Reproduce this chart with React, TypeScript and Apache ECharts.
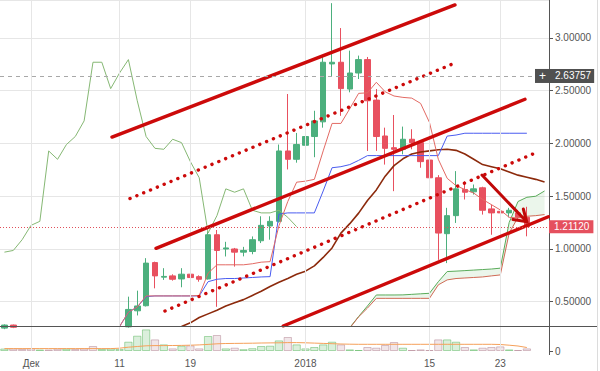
import React, { useEffect, useRef } from 'react';
import * as echarts from 'echarts';

// ---------- categories (one per day, 2017-11-28 .. 2018-01-28) ----------
const categories: string[] = [];
{
  const start = Date.UTC(2017, 10, 28);
  for (let i = 0; i < 62; i++) categories.push(new Date(start + i * 86400000).toISOString().slice(0, 10));
}
const xTickLabels: Record<string, string> = {
  '2017-12-01': 'Дек',
  '2017-12-11': '11',
  '2017-12-19': '19',
  '2018-01-01': '2018',
  '2018-01-15': '15',
  '2018-01-23': '23',
};

// ---------- candles (index 0 = 2017-11-28 ... 59 = 2018-01-26) ----------
const opens = [0.25, 0.279, 0.258, 0.25, 0.245, 0.248, 0.24, 0.236, 0.242, 0.238, 0.232, 0.228, 0.234, 0.238,
  0.262, 0.414, 0.462, 0.871, 0.733, 0.745, 0.716, 0.761, 0.738, 0.716, 1.135, 1.0, 1.0, 0.97, 0.976, 1.078, 1.218, 1.262,
  1.929, 1.85, 1.983, 2.066, 2.205, 2.754, 2.77, 2.516, 2.668, 2.795, 2.411, 2.071, 1.96, 1.945, 2.04, 2.008, 1.843, 1.675,
  1.145, 1.316, 1.564, 1.542, 1.58, 1.38, 1.357, 1.342, 1.342, 1.3];
const closes = [0.279, 0.258, 0.25, 0.245, 0.248, 0.24, 0.236, 0.242, 0.238, 0.232, 0.228, 0.234, 0.238, 0.262,
  0.427, 0.46, 0.866, 0.745, 0.74, 0.713, 0.761, 0.729, 0.713, 1.135, 0.986, 1.01, 0.97, 0.986, 1.088, 1.224, 1.262, 1.929,
  1.85, 1.99, 2.066, 2.214, 2.77, 2.77, 2.52, 2.668, 2.795, 2.405, 2.066, 1.954, 1.945, 2.04, 2.008, 1.828, 1.675, 1.151,
  1.316, 1.57, 1.538, 1.57, 1.367, 1.342, 1.342, 1.367, 1.3, 1.2112];
const lows = [0.24, 0.25, 0.24, 0.235, 0.238, 0.232, 0.228, 0.23, 0.232, 0.225, 0.22, 0.222, 0.228, 0.232,
  0.255, 0.37, 0.455, 0.627, 0.707, 0.7, 0.637, 0.675, 0.69, 0.71, 0.452, 0.929, 0.833, 0.93, 0.95, 1.056, 1.088, 1.25,
  1.754, 1.818, 1.88, 1.87, 2.15, 2.64, 2.262, 2.485, 2.611, 1.929, 1.93, 1.8, 1.548, 1.897, 1.945, 1.77, 1.643, 0.897,
  0.866, 1.247, 1.469, 1.516, 1.326, 1.135, 1.183, 1.3, 1.28, 1.12];
const highs = [0.285, 0.283, 0.262, 0.258, 0.255, 0.252, 0.246, 0.25, 0.248, 0.244, 0.24, 0.24, 0.246, 0.268,
  0.548, 0.605, 0.913, 0.88, 0.818, 0.76, 0.818, 0.846, 0.75, 1.167, 1.18, 1.068, 1.01, 1.02, 1.119, 1.31, 1.31, 1.99,
  2.469, 2.1, 2.12, 2.31, 2.82, 3.33, 3.094, 2.88, 2.833, 2.82, 2.516, 2.15, 2.27, 2.16, 2.135, 2.02, 1.86, 1.7,
  1.39, 1.738, 1.643, 1.611, 1.59, 1.421, 1.452, 1.39, 1.37, 1.4];

const lead = (n: number) => Array(n).fill(null);

// ---------- Ichimoku / MA lines ----------
const tenkan = [...lead(12), 0.24, 0.265, 0.4, 0.45, 0.555, 0.555, 0.555, 0.555, 0.555, 0.555, 0.56, 0.77, 0.85, 0.85, 0.85,
  0.85, 0.86, 0.875, 0.88, 1.22, 1.45, 1.633, 1.643, 1.66, 1.93, 2.19, 2.19, 2.33, 2.475, 2.48, 2.58, 2.49, 2.45, 2.437,
  2.43, 2.38, 2.2, 1.85, 1.67, 1.6, 1.564, 1.53, 1.47, 1.42, 1.37, 1.3, 1.294, 1.3, null, null];
const kijun = [...lead(12), 0.24, 0.265, 0.4, 0.45, 0.548, 0.555, 0.555, 0.555, 0.555, 0.555, 0.555, 0.69, 0.713, 0.72, 0.72,
  0.725, 0.73, 0.735, 0.738, 1.33, 1.342, 1.342, 1.342, 1.342, 1.55, 1.77, 1.78, 1.8, 1.84, 1.885, 1.885, 1.885, 1.885,
  1.885, 1.885, 1.885, 1.885, 1.885, 2.07, 2.08, 2.097, 2.097, 2.097, 2.097, 2.097, 2.097, 2.097, 2.097, null, null];
const brownMA = [...lead(19), 0.24, 0.265, 0.3, 0.35, 0.385, 0.42, 0.46, 0.49, 0.52, 0.56, 0.6, 0.645, 0.685, 0.72, 0.76,
  0.79, 0.84, 0.92, 1.01, 1.15, 1.24, 1.34, 1.46, 1.56, 1.69, 1.79, 1.855, 1.9, 1.92, 1.93, 1.94, 1.945, 1.935, 1.9, 1.85,
  1.8, 1.78, 1.76, 1.73, 1.7, 1.68, 1.66, 1.635];
const senkouA = [...lead(39), 0.255, 0.36, 0.46, 0.564, 0.564, 0.564, 0.565, 0.57, 0.575, 0.58, 0.69, 0.786, 0.79, 0.795,
  0.8, 0.805, 0.81, 0.818, 1.25, 1.45, 1.49, 1.5, 1.55];
const senkouB = [...lead(39), 0.25, 0.357, 0.44, 0.532, 0.532, 0.532, 0.532, 0.532, 0.532, 0.532, 0.66, 0.707, 0.72, 0.725,
  0.73, 0.735, 0.745, 0.754, 1.15, 1.3, 1.31, 1.316, 1.326];
// lagging span = closes shifted back 26 days
const chikou = categories.map((_, i) => (i + 26 < closes.length ? closes[i + 26] : null));

// ---------- volume ----------
const volumes = [2.5, 2.5, 2, 2.6, 1.5, 1.5, 2.3, 2.3, 2, 2.5, 5, 2, 2.5, 2,
  9.3, 15.3, 21.6, 11.6, 6.6, 2.6, 5.3, 5.6, 2.6, 15, 16, 2.6, 3.3, 1.8, 2.8, 5, 5.3, 10.6, 14, 6.6, 2.6, 4, 6.6, 9.3, 6.6,
  1.6, 1, 4, 3.3, 6, 9, 3.3, 1, 1.6, 1, 11.6, 11.6, 9.3, 4, 1.6, 3.3, 4, 4.6, 1.6, 1, 2.6];
const volumeMA = [2.4, 2.4, 2.4, 2.4, 2.4, 2.4, 2.4, 2.4, 2.4, 2.4, 2.4, 2.4, 2.4, 2.8, 3.8, 4.5, 5.2, 5.4, 5.4, 5.5, 5.6,
  5.8, 6.1, 6.6, 7.2, 7.5, 7.6, 7.7, 7.8, 8, 8.1, 8.2, 8.4, 8.4, 8.2, 7.9, 7.6, 7.3, 7.0, 6.8, 6.7, 6.7, 6.7, 6.7, 6.7,
  6.7, 6.7, 6.7, 6.7, 6.7, 6.7, 6.7, 6.7, 6.7, 6.7, 6.7, 6.5, 5.8, 5.0, 3.5];

// ---------- hand-drawn annotations: [dayIndex, price] anchors ----------
const trendSolid = [
  [[12.15, 2.061], [50.88, 3.313]],
  [[17.12, 1.006], [58.79, 2.419]],
  [[31.49, 0.27], [61.42, 1.306]],
];
const trendDotted = [
  [[14.18, 1.478], [50.88, 2.763]],
  [[18.13, 0.412], [60.29, 1.922]],
];
const arrowShaft = [[53.93, 1.701], [58.98, 1.258]];
const arrowHead = [[58.6, 1.379], [58.98, 1.258], [57.43, 1.279]];

const lastPrice = 1.2112;
const markPrice = 2.63757;

const GREEN = '#4caf7d';
const RED = '#e8505f';
const FONT = 'Liberation Sans, Arial, sans-serif';

export default function App() {
  const ref = useRef<HTMLDivElement>(null);
  useEffect(() => {
    if (!ref.current) return;
    const chart = echarts.init(ref.current, undefined, { renderer: 'svg' });
    const vLines = Object.keys(xTickLabels).map((k) => ({ xAxis: k }));
    const gridLineMark = {
      silent: true,
      symbol: ['none', 'none'],
      label: { show: false },
      lineStyle: { color: '#e6e6e6', width: 1, type: 'solid' },
      data: vLines,
    };
    const lineSeries = (data: any[], color: string, width: number, z = 4) => ({
      type: 'line', xAxisIndex: 0, yAxisIndex: 0, data, symbol: 'none', silent: true, z,
      lineStyle: { color, width }, label: { show: false },
    });
    const cloudDiff = senkouA.map((a, i) => (a == null || senkouB[i] == null ? null : +(a - (senkouB[i] as number)).toFixed(4)));

    const series: any[] = [
      { type: 'line', xAxisIndex: 0, yAxisIndex: 0, data: [], z: 1, silent: true, markLine: gridLineMark },
      { type: 'line', xAxisIndex: 2, yAxisIndex: 1, data: [], z: 1, silent: true, markLine: gridLineMark },
      // cloud fill
      { type: 'line', xAxisIndex: 0, yAxisIndex: 0, data: senkouB, stack: 'cloud', symbol: 'none', silent: true, z: 2,
        lineStyle: { opacity: 0 } },
      { type: 'line', xAxisIndex: 0, yAxisIndex: 0, data: cloudDiff, stack: 'cloud', symbol: 'none', silent: true, z: 2,
        lineStyle: { opacity: 0 }, areaStyle: { color: 'rgba(76,175,80,0.16)' } },
      {
        type: 'candlestick', xAxisIndex: 0, yAxisIndex: 0, z: 3, barWidth: 6, clip: true,
        data: opens.map((o, i) => [o, closes[i], lows[i], highs[i]]),
        itemStyle: { color: GREEN, color0: RED, borderColor: GREEN, borderColor0: RED, borderWidth: 1 },
        markLine: {
          silent: true, symbol: ['none', 'none'], z: 10,
          data: [
            {
              yAxis: markPrice,
              lineStyle: { color: '#a8a8a8', type: [4, 4], width: 1 },
              label: {
                show: true, position: 'end', distance: -14,
                formatter: '{p|+}{v|' + markPrice.toFixed(5) + '}',
                rich: {
                  p: { backgroundColor: '#505050', color: '#fff', fontSize: 12, fontFamily: FONT, padding: [1, 4], lineHeight: 12 },
                  v: { backgroundColor: '#505050', color: '#fff', fontSize: 10, fontFamily: FONT, padding: [2, 3, 2, 5], lineHeight: 10 },
                },
              },
            },
            {
              yAxis: lastPrice,
              lineStyle: { color: '#e0505a', type: [1, 2], width: 1 },
              label: {
                show: true, position: 'end', distance: 0,
                formatter: lastPrice.toFixed(5), backgroundColor: '#e5505e', color: '#fff',
                fontSize: 10, fontFamily: FONT, padding: [1, 4, 1, 5], lineHeight: 11,
              },
            },
          ],
        },
      },
      lineSeries(chikou, '#86b874', 1),
      lineSeries(senkouA, '#5aab5a', 1),
      lineSeries(senkouB, '#cf6a55', 1),
      lineSeries(brownMA, '#8c2a0c', 1.6),
      lineSeries(kijun, '#4a5cf0', 1),
      lineSeries(tenkan, '#e36a64', 1),
      ...trendSolid.map((d) => ({ type: 'line', xAxisIndex: 1, yAxisIndex: 0, data: d, symbol: 'none', silent: true, z: 6,
        lineStyle: { color: '#cc0a0a', width: 3.4, cap: 'round' } })),
      ...trendDotted.map((d) => ({ type: 'line', xAxisIndex: 1, yAxisIndex: 0, data: d, symbol: 'none', silent: true, z: 6,
        lineStyle: { color: '#cc0a0a', width: 3.4, type: [0.1, 7.3], cap: 'round' } })),
      { type: 'line', xAxisIndex: 1, yAxisIndex: 0, data: arrowShaft, symbol: 'none', silent: true, z: 6,
        lineStyle: { color: '#c00808', width: 3, cap: 'round' } },
      { type: 'line', xAxisIndex: 1, yAxisIndex: 0, data: arrowHead, symbol: 'none', silent: true, z: 6,
        lineStyle: { color: '#c00808', width: 3, cap: 'round', join: 'miter' } },
      // volume
      {
        type: 'bar', xAxisIndex: 2, yAxisIndex: 1, z: 3, silent: true, barCategoryGap: '6%',
        data: volumes.map((v, i) => ({
          value: v,
          itemStyle: closes[i] >= opens[i]
            ? { color: 'rgba(76,175,80,0.2)', borderColor: 'rgba(76,175,80,0.45)', borderWidth: 1 }
            : { color: 'rgba(190,140,155,0.22)', borderColor: 'rgba(170,120,135,0.45)', borderWidth: 1 },
        })),
      },
      { type: 'line', xAxisIndex: 2, yAxisIndex: 1, data: volumeMA, symbol: 'none', silent: true, z: 4,
        lineStyle: { color: '#f5a05a', width: 1 } },
    ];

    chart.setOption({
      animation: false,
      textStyle: { fontFamily: FONT },
      grid: [
        { left: 0, right: 51, top: 0, height: 326 },
        { left: 0, right: 51, top: 326, height: 25 },
      ],
      xAxis: [
        { type: 'category', gridIndex: 0, data: categories, boundaryGap: true, axisLine: { show: false, onZero: false },
          axisTick: { show: false }, axisLabel: { show: false }, splitLine: { show: false } },
        { type: 'value', gridIndex: 0, min: -0.5, max: 61.5, show: false, axisLine: { show: false, onZero: false },
          axisLabel: { show: false }, axisTick: { show: false }, splitLine: { show: false } },
        { type: 'category', gridIndex: 1, data: categories, boundaryGap: true, axisLine: { show: false, onZero: false },
          axisTick: { show: false }, splitLine: { show: false },
          axisLabel: {
            interval: (_i: number, v: string) => v in xTickLabels,
            formatter: (v: string) => xTickLabels[v] ?? '',
            color: '#555', fontSize: 10, margin: 7, fontFamily: FONT,
          } },
      ],
      yAxis: [
        { type: 'value', gridIndex: 0, position: 'right', min: 0.27, max: 3.36, splitNumber: 6,
          axisLine: { show: true, onZero: false, lineStyle: { color: '#555' } },
          axisTick: { show: true, length: 4, lineStyle: { color: '#555' } },
          axisLabel: {
            showMinLabel: false, showMaxLabel: false, color: '#555', fontSize: 10, margin: 6, fontFamily: FONT,
            formatter: (v: number) => (Math.abs(v * 2 - Math.round(v * 2)) < 1e-6 ? v.toFixed(5) : ''),
          },
          splitLine: { show: true, lineStyle: { color: '#e6e6e6' } } },
        { type: 'value', gridIndex: 1, position: 'right', min: 0, max: 25, splitNumber: 1,
          axisLine: { show: true, onZero: false, lineStyle: { color: '#555' } },
          axisTick: { show: true, length: 4, lineStyle: { color: '#555' } },
          axisLabel: { showMaxLabel: false, color: '#555', fontSize: 10, margin: 6, fontFamily: FONT,
            formatter: (v: number) => (v === 0 ? '0' : '') },
          splitLine: { show: false } },
      ],
      graphic: [
        { type: 'line', shape: { x1: 0, y1: 326.5, x2: 597, y2: 326.5 }, style: { stroke: '#555', lineWidth: 1 }, z: 20, silent: true },
        { type: 'line', shape: { x1: 597.5, y1: 0, x2: 597.5, y2: 371 }, style: { stroke: '#dcdcdc', lineWidth: 1 }, z: 20, silent: true },
        { type: 'line', shape: { x1: 549.5, y1: 351, x2: 549.5, y2: 355 }, style: { stroke: '#555', lineWidth: 1 }, z: 20, silent: true },
      ],
      series,
    });
    return () => chart.dispose();
  }, []);
  return <div ref={ref} style={{ position: 'absolute', left: 0, top: 0, width: 600, height: 371, background: '#fff' }} />;
}
